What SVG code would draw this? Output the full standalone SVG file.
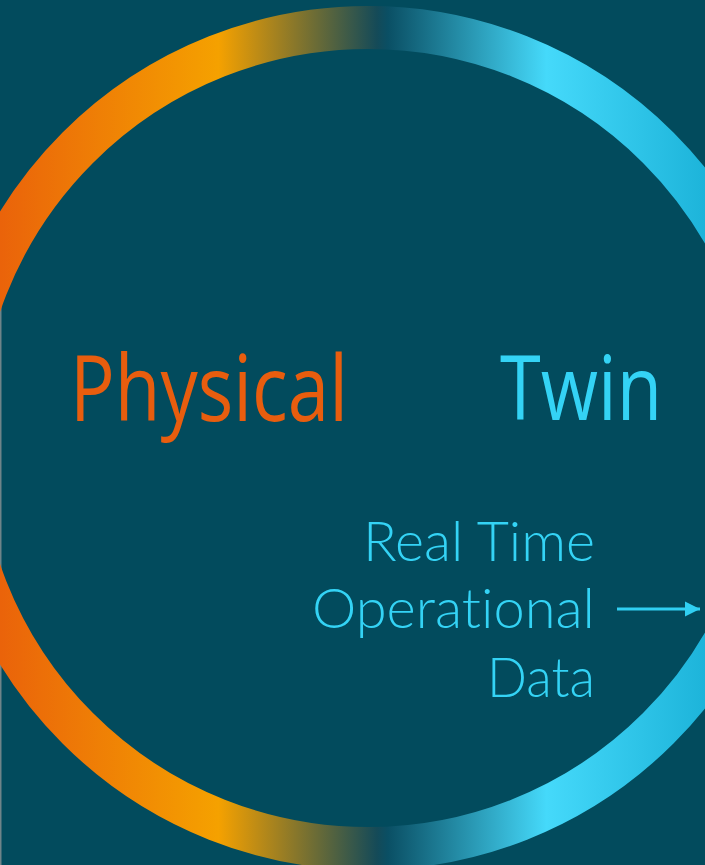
<svg xmlns="http://www.w3.org/2000/svg" width="705" height="865" viewBox="0 0 705 865">
  <defs>
    <linearGradient id="ringGrad" gradientUnits="userSpaceOnUse" x1="0" y1="0" x2="705" y2="0">
      <stop offset="0" stop-color="#EA630A"/>
      <stop offset="0.31" stop-color="#F5A100"/>
      <stop offset="0.535" stop-color="#144A58"/>
      <stop offset="0.55" stop-color="#0A4F64"/>
      <stop offset="0.775" stop-color="#45D9FA"/>
      <stop offset="1" stop-color="#1DB4DA"/>
    </linearGradient>
    <marker id="arrowHead" markerUnits="userSpaceOnUse" markerWidth="16" markerHeight="16" refX="15" refY="8" orient="auto">
      <polygon points="0,0.5 15,8 0,15.5" fill="#30CFF2"/>
    </marker>
  </defs>
  <style>
    .title { font-family: "Open Sans", "Noto Sans", "Liberation Sans", sans-serif; font-weight: 400; }
    .sub { font-family: Lato, "Open Sans", "Liberation Sans", sans-serif; font-weight: 300; font-size: 55px; fill: #34D3F5; text-anchor: end; font-variant-ligatures: none; font-feature-settings: "liga" 0, "dlig" 0; }
    .connector { stroke: #30CFF2; stroke-width: 3; fill: none; }
  </style>
  <rect x="0" y="0" width="705" height="865" fill="#024B5D"/>
  <rect x="0" y="213" width="1.5" height="652" fill="#6E8489"/>
  <g id="ring">
    <circle cx="368" cy="438" r="410.5" fill="none" stroke="url(#ringGrad)" stroke-width="43"/>
  </g>
  <g id="physical">
    <text class="title" x="70" y="421" font-size="91" fill="#E85D0E" textLength="278" lengthAdjust="spacingAndGlyphs">Physical</text>
  </g>
  <g id="twin">
    <text class="title" x="500" y="420" font-size="89" fill="#34D3F5" textLength="162" lengthAdjust="spacingAndGlyphs">Twin</text>
  </g>
  <g id="realtime-data">
    <text class="sub" x="595" y="561" textLength="232" lengthAdjust="spacingAndGlyphs">Real Time</text>
    <text class="sub" x="595" y="628" textLength="283" lengthAdjust="spacingAndGlyphs">Operational</text>
    <text class="sub" x="595" y="697" textLength="108" lengthAdjust="spacingAndGlyphs">Data</text>
  </g>
  <g id="connectors">
    <line class="connector" x1="617" y1="609" x2="700" y2="609" marker-end="url(#arrowHead)"/>
  </g>
</svg>
